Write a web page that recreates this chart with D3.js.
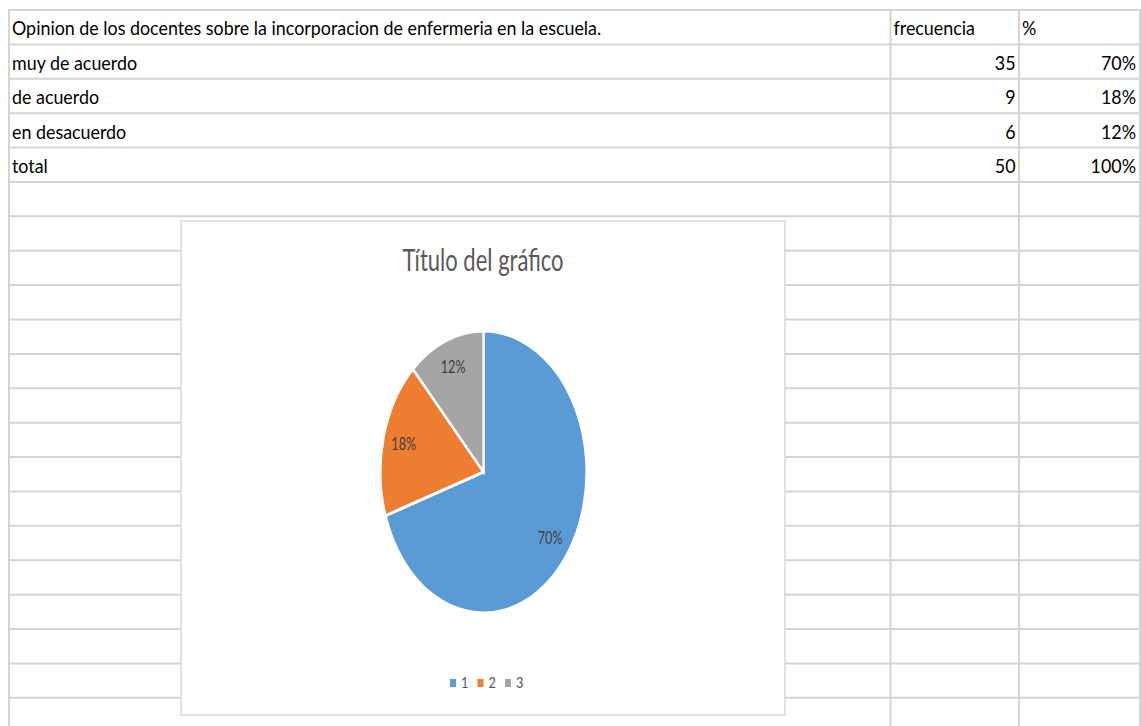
<!DOCTYPE html>
<html>
<head>
<meta charset="utf-8">
<script src="https://cdn.jsdelivr.net/npm/d3@7"></script>
<style>
  body { margin: 0; background: #fff; }
  text { font-family: Lato, "Open Sans", sans-serif; }
</style>
</head>
<body>
<div id="sheet"></div>
<script>
// data
var tableTitle = "Opinion de los docentes sobre la incorporacion de enfermeria en la escuela.";
var colHeaders = ["frecuencia", "%"];
var categories = ["muy de acuerdo", "de acuerdo", "en desacuerdo"];
var frecuencia = [35, 9, 6];
var porcentaje = ["70%", "18%", "12%"];
var totalRow = ["total", 50, "100%"];
var chartTitle = "Título del gráfico";
var legendLabels = ["1", "2", "3"];
var colors = ["#5B9BD5", "#ED7D31", "#A5A5A5"];

var W = 1141, H = 726;

var svg = d3.select("#sheet").append("svg")
    .attr("width", W)
    .attr("height", H);

// squeeze a text to match the narrow look of the capture
function squeeze(sel, k) {
  sel.each(function() {
    var w = this.getComputedTextLength();
    d3.select(this).attr("textLength", w * k).attr("lengthAdjust", "spacingAndGlyphs");
  });
}

// spreadsheet grid
var nRows = 20;
var rowY = d3.scaleLinear().domain([0, nRows]).range([10, 697.8]);
var colX = [9, 890.5, 1019, 1140];
var gridColor = "#d4d4d4";

svg.append("g").selectAll("line")
    .data(d3.range(nRows + 1))
    .enter().append("line")
    .attr("x1", colX[0]).attr("x2", colX[3])
    .attr("y1", function(d) { return rowY(d); })
    .attr("y2", function(d) { return rowY(d); })
    .attr("stroke", gridColor)
    .attr("stroke-width", 2);

svg.append("g").selectAll("line")
    .data(colX)
    .enter().append("line")
    .attr("x1", function(d) { return d; }).attr("x2", function(d) { return d; })
    .attr("y1", rowY(0) - 1).attr("y2", H)
    .attr("stroke", gridColor)
    .attr("stroke-width", 2);

// cell texts
var cellFont = 19;
function baseline(i) { return rowY(i + 1) - 9; }

var cells = svg.append("g").attr("font-size", cellFont).attr("fill", "#000");

cells.append("text").attr("x", colX[0] + 3).attr("y", baseline(0)).text(tableTitle);
cells.append("text").attr("x", colX[1] + 3).attr("y", baseline(0)).text(colHeaders[0]);
cells.append("text").attr("x", colX[2] + 3).attr("y", baseline(0)).text(colHeaders[1]);

var rows = categories.map(function(c, i) { return [c, frecuencia[i], porcentaje[i]]; });
rows.push(totalRow);

rows.forEach(function(r, i) {
  cells.append("text").attr("x", colX[0] + 3).attr("y", baseline(i + 1)).text(r[0]);
  cells.append("text").attr("x", colX[2] - 3.5).attr("y", baseline(i + 1))
      .attr("text-anchor", "end").text(r[1]);
  cells.append("text").attr("x", colX[3] - 4).attr("y", baseline(i + 1))
      .attr("text-anchor", "end").text(r[2]);
});
squeeze(cells.selectAll("text"), 0.94);

// chart object
var chart = {x: 181, y: 221, w: 604, h: 494};
var g_chart = svg.append("g").attr("transform", "translate(" + chart.x + "," + chart.y + ")");

g_chart.append("rect")
    .attr("width", chart.w).attr("height", chart.h)
    .attr("fill", "#fff")
    .attr("stroke", "#d9d9d9")
    .attr("stroke-width", 1.5);

var title = g_chart.append("text")
    .attr("x", 302).attr("y", 50)
    .attr("text-anchor", "middle")
    .attr("font-size", 31)
    .attr("fill", "#595959")
    .text(chartTitle);
squeeze(title, 0.71);

// pie (elliptical, like the capture)
var R = 141, sx = 103 / 141;
var cx = 302.5, cy = 251;
var pie = d3.pie().sort(null).value(function(d) { return d; });
var arcs = pie(frecuencia);
var total = d3.sum(frecuencia);
var arc = d3.arc().innerRadius(0).outerRadius(R);
var labelArc = d3.arc().innerRadius(R * 0.8).outerRadius(R * 0.8);

var g_pie = g_chart.append("g")
    .attr("transform", "translate(" + cx + "," + cy + ") scale(" + sx + ",1)");

g_pie.selectAll("path")
    .data(arcs)
    .enter().append("path")
    .attr("d", arc)
    .attr("fill", function(d, i) { return colors[i]; })
    .attr("stroke", "#fff")
    .attr("stroke-width", 3);

var labels = g_chart.append("g")
    .attr("transform", "translate(" + cx + "," + cy + ")")
    .selectAll("text")
    .data(arcs)
    .enter().append("text")
    .attr("x", function(d) { return labelArc.centroid(d)[0] * sx; })
    .attr("y", function(d) { return labelArc.centroid(d)[1]; })
    .attr("dy", "0.35em")
    .attr("text-anchor", "middle")
    .attr("font-size", 17)
    .attr("fill", "#404040")
    .text(function(d) { return Math.round(d.value / total * 100) + "%"; });
squeeze(labels, 0.74);

// legend
var legend = g_chart.append("g").attr("transform", "translate(269,458)");
var item = legend.selectAll("g")
    .data(legendLabels)
    .enter().append("g")
    .attr("transform", function(d, i) { return "translate(" + (i * 27.5) + ",0)"; });

item.append("rect")
    .attr("y", 0)
    .attr("width", 6).attr("height", 8)
    .attr("fill", function(d, i) { return colors[i]; });

var legendText = item.append("text")
    .attr("x", 11).attr("y", 9)
    .attr("font-size", 16)
    .attr("fill", "#595959")
    .text(function(d) { return d; });
squeeze(legendText, 0.8);
</script>
</body>
</html>
